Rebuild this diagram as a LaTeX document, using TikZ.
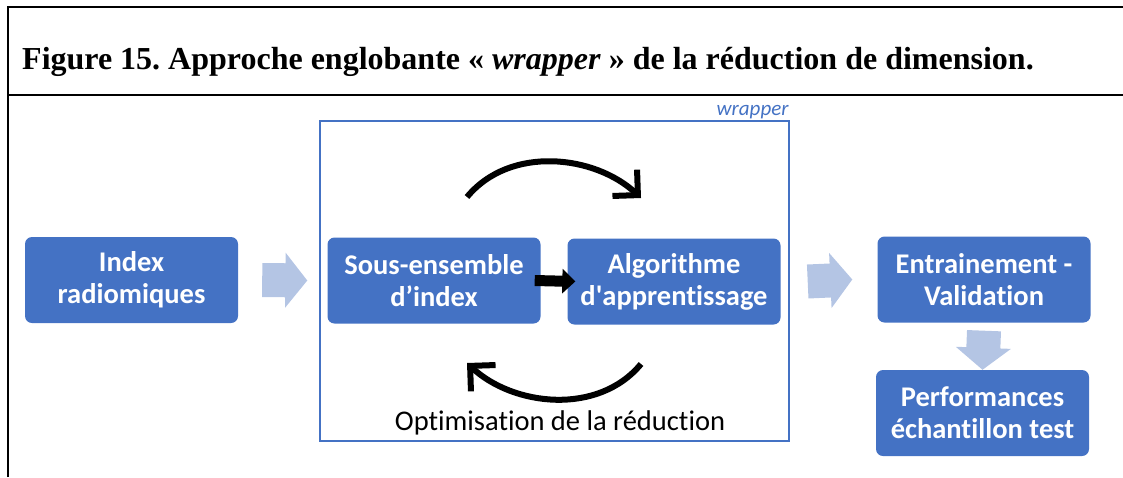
\documentclass[tikz,border=0pt]{standalone}
\usepackage{fontspec}
\setmainfont[Ligatures=NoCommon]{Carlito}
\newfontfamily\titlefont{Liberation Serif}
\usetikzlibrary{arrows.meta}
\frenchspacing
\newcommand\straightquote{\XeTeXglyph\XeTeXcharglyph"27\relax}
\definecolor{boxblue}{RGB}{68,114,196}
\definecolor{paleblue}{RGB}{180,197,228}
\tikzset{
  stepbox/.style={rounded corners=7pt,fill=boxblue,text=white,align=center,
    font=\fontsize{28.5}{32}\selectfont\bfseries,
    minimum width=213pt,minimum height=86pt,inner sep=0pt},
  palearrow/.style={draw=paleblue,line width=34pt,-{Triangle[length=22pt,width=54pt]}},
  cyclearrow/.style={line width=6pt,-{Straight Barb[length=18pt,width=36pt]}}
}
\begin{document}
\begin{tikzpicture}[x=1pt,y=-1pt]
\useasboundingbox (0,0) rectangle (1123,477);
\draw[line width=2.6pt](8,477)--(8,7)--(1123,7);
\draw[line width=2.6pt](8,95)--(1123,95);
\node[anchor=base west,inner sep=0pt] (title) at (22,69) {\titlefont\bfseries\fontsize{32}{38}\selectfont Figure 15. Approche englobante « \textit{wrapper} » de la réduction de dimension.};
\node[draw=boxblue,line width=1.5pt,minimum width=469pt,minimum height=320pt] (wrap) at (554.5,281) {};
\node[anchor=south east,inner sep=1pt,text=boxblue,font=\itshape\fontsize{21}{24}\selectfont] (wraplbl) at (wrap.north east) {wrapper};
\node[stepbox] (idx) at (131.5,280) {Index\\radiomiques};
\node[stepbox] (sous) at (434,280.5) {Sous-ensemble\\d’index};
\node[stepbox] (algo) at (674,281.5) {Algorithme\\d\straightquote apprentissage};
\node[stepbox] (entr) at (984,279.5) {Entrainement -\\Validation};
\node[stepbox] (perf) at (982.5,413) {Performances\\échantillon test};
\draw[palearrow]([xshift=24pt]idx.east)--([xshift=-20pt]sous.west);
\draw[palearrow]([xshift=27pt]algo.east)--([xshift=-25pt]entr.west);
\draw[palearrow]([yshift=-8pt]entr.south)--(perf.north);
\draw[line width=11pt,-{Triangle[length=13pt,width=24pt]}]([xshift=-6pt]sous.east)--([xshift=8pt]algo.west);
\coordinate (topA) at (467,197);
\coordinate (topB) at (641,198);
\coordinate (botA) at (641,364);
\coordinate (botB) at (467,363);
\draw[cyclearrow](topA) .. controls (510,145) and (595,155) .. (topB);
\draw[cyclearrow](botA) .. controls (598,416) and (513,406) .. (botB);
\node[anchor=base,font=\fontsize{28.5}{32}\selectfont] (optim) at (560,430) {Optimisation de la réduction};
\end{tikzpicture}
\end{document}
